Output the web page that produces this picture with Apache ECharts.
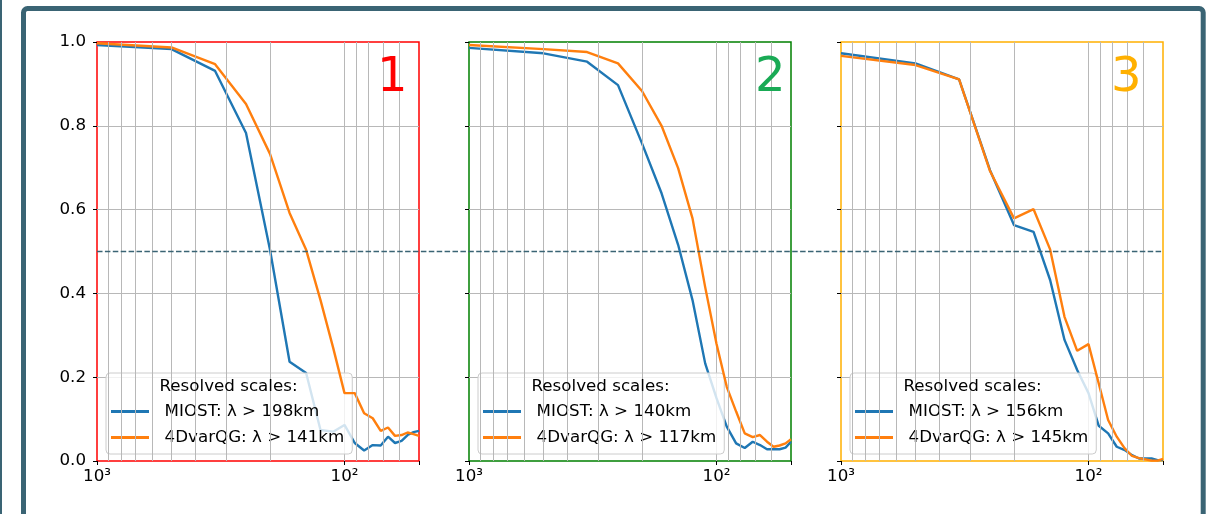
<!DOCTYPE html>
<html>
<head>
<meta charset="utf-8">
<script src="https://cdn.jsdelivr.net/npm/echarts@6/dist/echarts.min.js"></script>
<style>
  html, body { margin: 0; padding: 0; background: #fff; }
  #chart { width: 1219px; height: 514px; }
</style>
</head>
<body>
<div id="chart"></div>
<script>
// wavelengths (km)
var wavelength = [1000, 500, 333.3, 250, 200, 166.7, 142.9, 125, 111.1, 100, 90.9, 83.3, 76.9, 71.4, 66.7, 62.5, 58.8, 55.6, 52.6, 50];

var miost1 = [0.993, 0.983, 0.931, 0.783, 0.504, 0.237, 0.21, 0.074, 0.07, 0.086, 0.043, 0.025, 0.038, 0.037, 0.058, 0.043, 0.048, 0.062, 0.069, 0.072];
var qg1    = [0.997, 0.987, 0.947, 0.852, 0.733, 0.592, 0.504, 0.384, 0.27, 0.162, 0.162, 0.114, 0.102, 0.072, 0.08, 0.06, 0.062, 0.068, 0.064, 0.06];
var miost2 = [0.986, 0.973, 0.953, 0.897, 0.758, 0.639, 0.516, 0.384, 0.233, 0.15, 0.082, 0.042, 0.031, 0.046, 0.038, 0.028, 0.028, 0.028, 0.032, 0.046];
var qg2    = [0.993, 0.983, 0.976, 0.949, 0.883, 0.8, 0.699, 0.579, 0.415, 0.28, 0.177, 0.118, 0.066, 0.057, 0.062, 0.046, 0.034, 0.037, 0.042, 0.052];
var miost3 = [0.973, 0.949, 0.911, 0.694, 0.563, 0.547, 0.432, 0.289, 0.217, 0.162, 0.084, 0.066, 0.034, 0.026, 0.014, 0.006, 0.006, 0.006, 0.002, 0.002];
var qg3    = [0.967, 0.945, 0.911, 0.692, 0.579, 0.601, 0.505, 0.344, 0.263, 0.279, 0.185, 0.098, 0.058, 0.03, 0.012, 0.007, 0.004, 0.001, 0.001, 0.005];

var miostLabels = ['MIOST: λ > 198km', 'MIOST: λ > 140km', 'MIOST: λ > 156km'];
var qgLabels = ['4DvarQG: λ > 141km', '4DvarQG: λ > 117km', '4DvarQG: λ > 145km'];
var panelNames = ['1', '2', '3'];
var minorGridX = [900, 800, 700, 600, 500, 400, 300, 200, 90, 80, 70, 60];
var threshold = 0.5;

var miostData = [miost1, miost2, miost3];
var qgData = [qg1, qg2, qg3];

var FONT = 'DejaVu Sans';
var panelColors = ['#ff0000', '#008000', '#ffb000'];
var numberColors = ['#ff0000', '#19aa55', '#ffb000'];
var gridLefts = [97, 469, 841];
var numberLefts = [377, 755, 1111];
var gridColor = '#b8b8b8';

function pairs(ys) {
  return wavelength.map(function (x, j) { return [x, ys[j]]; });
}

var grids = [], xAxes = [], yAxes = [], series = [], legends = [];
var graphics = [
  { type: 'rect', silent: true, shape: { x: 23.5, y: 8.5, width: 1179.7, height: 530, r: 4 },
    style: { fill: 'none', stroke: '#3a6474', lineWidth: 5 }, z: 100 },
  { type: 'rect', silent: true, shape: { x: 0, y: 0, width: 2, height: 514 },
    style: { fill: '#3a6474' }, z: 100 }
];

for (var i = 0; i < 3; i++) {
  grids.push({
    left: gridLefts[i], top: 42, width: 322, height: 419,
    show: true, borderColor: panelColors[i], borderWidth: 1.5,
    backgroundColor: 'transparent', outerBoundsMode: 'none'
  });
  xAxes.push({
    type: 'log', gridIndex: i, logBase: 10, min: 50, max: 1000, inverse: true,
    axisLine: { show: false },
    axisTick: { show: true, length: 4, lineStyle: { color: '#000' } },
    axisLabel: {
      fontFamily: FONT, fontSize: 16.7, color: '#000', margin: 7,
      formatter: function (v) {
        if (Math.abs(v - 1000) < 1) return '10³';
        if (Math.abs(v - 100) < 0.5) return '10²';
        return '';
      }
    },
    splitLine: { show: true, showMinLine: false, showMaxLine: false,
      lineStyle: { color: gridColor, width: 1 } }
  });
  yAxes.push({
    type: 'value', gridIndex: i, min: 0, max: 1, interval: 0.2,
    axisLine: { show: false },
    axisTick: { show: true, length: 4, lineStyle: { color: '#000' } },
    axisLabel: {
      show: i === 0, fontFamily: FONT, fontSize: 16.7, color: '#000', margin: 11,
      formatter: function (v) { return v.toFixed(1); }
    },
    splitLine: { show: true, showMinLine: false, showMaxLine: false,
      lineStyle: { color: gridColor, width: 1 } }
  });

  // minor log gridlines
  series.push({
    type: 'line', xAxisIndex: i, yAxisIndex: i, data: [], z: 1, silent: true,
    markLine: {
      silent: true, symbol: ['none', 'none'], label: { show: false }, animation: false,
      lineStyle: { color: gridColor, width: 1, type: 'solid' },
      emphasis: { disabled: true },
      data: minorGridX.map(function (v) { return { xAxis: v }; })
    }
  });
  series.push({
    name: miostLabels[i], type: 'line', xAxisIndex: i, yAxisIndex: i,
    data: pairs(miostData[i]), symbol: 'none', z: 3, color: '#1f77b4',
    lineStyle: { width: 2.4, color: '#1f77b4' }
  });
  series.push({
    name: qgLabels[i], type: 'line', xAxisIndex: i, yAxisIndex: i,
    data: pairs(qgData[i]), symbol: 'none', z: 4, color: '#ff7f0e',
    lineStyle: { width: 2.4, color: '#ff7f0e' }
  });

  legends.push({
    data: [miostLabels[i], qgLabels[i]],
    left: gridLefts[i] + 9, top: 373, orient: 'vertical',
    icon: 'rect', itemWidth: 38, itemHeight: 3, itemGap: 9,
    padding: [30, 8, 8, 5],
    backgroundColor: 'rgba(255,255,255,0.8)', borderColor: '#cccccc', borderWidth: 1, borderRadius: 4,
    selectedMode: false, formatter: '  {name}',
    textStyle: { fontFamily: FONT, fontSize: 16.7, color: '#000', lineHeight: 16 }
  });

  graphics.push({
    type: 'text', silent: true, z: 100, x: gridLefts[i] + 131.5, y: 387,
    style: { text: 'Resolved scales:', font: '16.7px "DejaVu Sans"', fill: '#000',
      textAlign: 'center', textVerticalAlign: 'middle' }
  });
  graphics.push({
    type: 'text', silent: true, z: 100, x: numberLefts[i], y: 79,
    style: { text: panelNames[i], font: '48px "DejaVu Sans"', fill: numberColors[i],
      textAlign: 'left', textVerticalAlign: 'middle' }
  });
}

var chart = echarts.init(document.getElementById('chart'));
chart.setOption({
  animation: false,
  backgroundColor: '#fff',
  grid: grids,
  xAxis: xAxes,
  yAxis: yAxes,
  legend: legends,
  series: series,
  graphic: graphics
});

// dashed 0.5 line across the three panels
var p0 = chart.convertToPixel({ gridIndex: 0 }, [1000, threshold]);
var p1 = chart.convertToPixel({ gridIndex: 2 }, [50, threshold]);
graphics.push({
  type: 'line', silent: true, z: 50,
  shape: { x1: p0[0], y1: p0[1], x2: p1[0], y2: p1[1] },
  style: { stroke: '#3a6474', lineWidth: 1.5, lineDash: [5.5, 2.4] }
});
chart.setOption({ graphic: graphics });
</script>
</body>
</html>
